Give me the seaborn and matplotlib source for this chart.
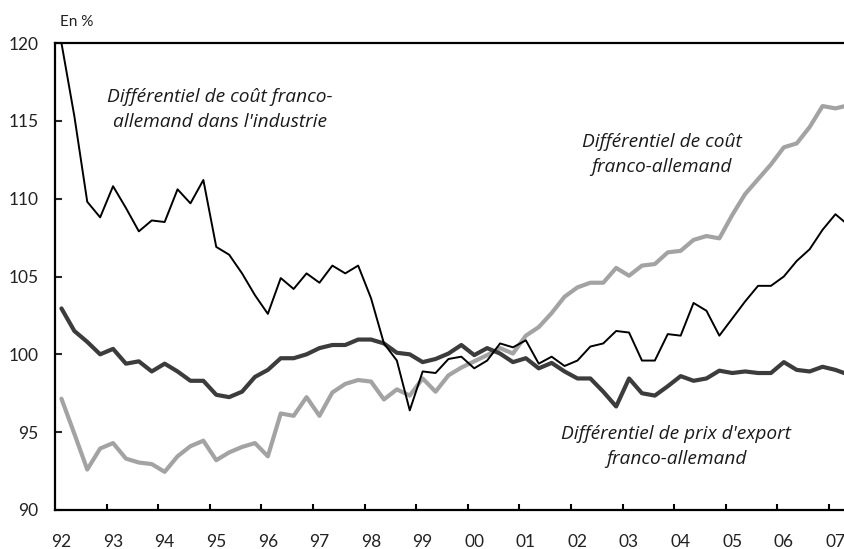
import numpy as np
import pandas as pd
import matplotlib
matplotlib.use("Agg")
import matplotlib.pyplot as plt
import seaborn as sns

# Quarterly series, 1992 Q1 to 2007 Q2 (index base 100)
start_year = 1992
n_quarters = 62

cout_industrie = [
    120.0, 115.3, 109.8, 108.8, 110.8, 109.4, 107.9, 108.6,
    108.5, 110.6, 109.7, 111.2, 106.9, 106.4, 105.2, 103.8,
    102.6, 104.9, 104.2, 105.2, 104.6, 105.7, 105.2, 105.7,
    103.6, 100.7, 99.6, 96.4, 98.9, 98.8, 99.7, 99.85,
    99.1, 99.6, 100.7, 100.45, 100.9, 99.4, 99.85, 99.25,
    99.6, 100.5, 100.7, 101.5, 101.4, 99.6, 99.6, 101.3,
    101.2, 103.3, 102.8, 101.2, 102.3, 103.4, 104.4, 104.4,
    105.0, 106.0, 106.75, 108.0, 109.0, 108.3,
]

cout_total = [
    97.15, 94.9, 92.6, 93.95, 94.3, 93.3, 93.05, 92.95,
    92.45, 93.45, 94.1, 94.45, 93.2, 93.7, 94.05, 94.3,
    93.45, 96.2, 96.05, 97.25, 96.05, 97.55, 98.1, 98.35,
    98.25, 97.1, 97.75, 97.35, 98.45, 97.6, 98.65, 99.15,
    99.55, 99.95, 100.4, 100.05, 101.2, 101.75, 102.65, 103.7,
    104.3, 104.6, 104.6, 105.55, 105.05, 105.7, 105.8, 106.55,
    106.65, 107.35, 107.6, 107.45, 108.95, 110.3, 111.25, 112.2,
    113.3, 113.55, 114.6, 115.95, 115.8, 116.0,
]

prix_export = [
    102.95, 101.5, 100.8, 100.0, 100.35, 99.4, 99.55, 98.9,
    99.4, 98.9, 98.3, 98.3, 97.4, 97.25, 97.6, 98.55,
    99.0, 99.75, 99.75, 100.0, 100.4, 100.6, 100.6, 100.95,
    100.95, 100.7, 100.1, 100.0, 99.5, 99.7, 100.05, 100.6,
    99.95, 100.4, 100.05, 99.5, 99.75, 99.1, 99.45, 98.9,
    98.45, 98.45, 97.6, 96.65, 98.45, 97.5, 97.35, 97.95,
    98.6, 98.3, 98.45, 98.95, 98.8, 98.9, 98.8, 98.8,
    99.5, 99.0, 98.9, 99.2, 99.0, 98.7,
]

year_labels = ["92", "93", "94", "95", "96", "97", "98", "99",
               "00", "01", "02", "03", "04", "05", "06", "07"]

label_industrie = "Différentiel de coût franco-\nallemand dans l'industrie"
label_total = "Différentiel de coût\nfranco-allemand"
label_export = "Différentiel de prix d'export\nfranco-allemand"

sns.set_style("white")
plt.rcParams["font.family"] = ["Lato", "DejaVu Sans"]

# Quarter midpoints expressed in two-digit years (92 -> 1992)
t = 92 + (np.arange(n_quarters) + 0.5) / 4.0
df = pd.DataFrame({
    "t": t,
    "industrie": cout_industrie,
    "total": cout_total,
    "export": prix_export,
})

fig = plt.figure(figsize=(8.45, 5.49), dpi=100)
ax = fig.add_axes([55 / 845, 39 / 549, 790 / 845, 467 / 549])

sns.lineplot(data=df, x="t", y="total", ax=ax, color="#a3a3a3", linewidth=3.0)
sns.lineplot(data=df, x="t", y="export", ax=ax, color="#3c3c3c", linewidth=3.0)
sns.lineplot(data=df, x="t", y="industrie", ax=ax, color="black", linewidth=1.4)

ax.set_xlim(92, 92 + 790 / 51.6)
ax.set_ylim(90, 120)
ax.set_xlabel("")
ax.set_ylabel("")

# Year boundaries as tick marks, labels under the first quarter of each year
years = np.arange(92, 92 + len(year_labels))
ax.set_xticks(years[1:])
ax.set_xticklabels([])
ax.set_xticks(years + 0.125, minor=True)
ax.set_xticklabels(year_labels, minor=True)
ax.tick_params(axis="x", which="major", direction="in", length=4, width=1.5,
               color="black", bottom=True)
ax.tick_params(axis="x", which="minor", length=0, pad=17, labelsize=12.5,
               labelcolor="#222222", bottom=True)

ax.set_yticks(np.arange(90, 121, 5))
ax.tick_params(axis="y", direction="in", length=5, width=1.5, pad=12,
               labelsize=12.5, labelcolor="#222222", left=True)

for side in ["left", "bottom", "top"]:
    ax.spines[side].set_visible(True)
    ax.spines[side].set_color("black")
    ax.spines[side].set_linewidth(1.6)
ax.spines["right"].set_visible(False)

text_kw = dict(transform=ax.transAxes, ha="center", va="center",
               multialignment="center", fontsize=13.8, style="italic",
               color="#1a1a1a", linespacing=1.5,
               family=["Open Sans", "DejaVu Sans"])
ax.text(0.209, 0.858, label_industrie, **text_kw)
ax.text(0.768, 0.762, label_total, **text_kw)
ax.text(0.786, 0.137, label_export, **text_kw)

fig.text(60 / 845, 1 - 22 / 549, "En %", ha="left", va="center",
         fontsize=11, color="#222222")

fig.savefig("out.png", dpi=100)
